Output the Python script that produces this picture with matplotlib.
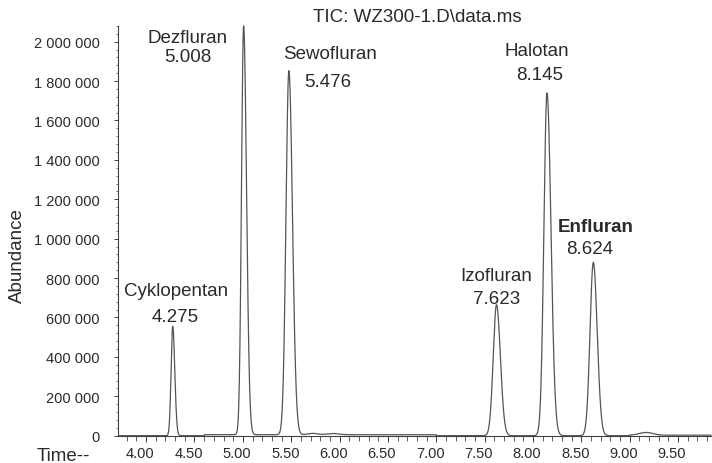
import numpy as np
import matplotlib
matplotlib.use("Agg")
import matplotlib.pyplot as plt
from matplotlib.ticker import MultipleLocator, FuncFormatter
from matplotlib.transforms import ScaledTranslation

plt.rcParams['font.family'] = ['Liberation Sans', 'DejaVu Sans']

# ---- data ----
peak_names = ["Cyklopentan", "Dezfluran", "Sewofluran", "Izofluran", "Halotan", "Enfluran"]
peak_rt = [4.275, 5.008, 5.476, 7.623, 8.145, 8.624]
peak_height = [555000, 2075000, 1848000, 665000, 1740000, 880000]
peak_sigma_left = [0.017, 0.022, 0.030, 0.034, 0.032, 0.034]
peak_sigma_right = [0.021, 0.030, 0.037, 0.040, 0.041, 0.040]

minor_rt = [5.72, 5.93, 9.17]
minor_height = [7000, 6000, 14000]
minor_sigma = [0.05, 0.06, 0.07]

baseline_start = [4.60, 9.00]
baseline_end = [7.00, 9.84]
baseline_level = [5000, 2500]

title = "TIC: WZ300-1.D\\data.ms"

# ---- build the trace ----
t = np.linspace(3.72, 9.84, 8000)
y = np.zeros_like(t)
for rt, h, sl, sr in zip(peak_rt, peak_height, peak_sigma_left, peak_sigma_right):
    s = np.where(t < rt, sl, sr)
    y += h * np.exp(-0.5 * ((t - rt) / s) ** 2)
for rt, h, s in zip(minor_rt, minor_height, minor_sigma):
    y += h * np.exp(-0.5 * ((t - rt) / s) ** 2)
for a, b, lv in zip(baseline_start, baseline_end, baseline_level):
    y += np.where((t >= a) & (t <= b), lv, 0)

fig = plt.figure(figsize=(7.12, 4.64), dpi=100)
ax = fig.add_axes([118 / 712, 27.3 / 464, (711.5 - 118) / 712, (436.7 - 26.7) / 464])

ax.plot(t, y, color="#555555", lw=0.9, clip_on=False)

ax.set_xlim(3.709, 9.846)
ax.set_ylim(0, 2.081e6)

for side in ("top", "right"):
    ax.spines[side].set_visible(False)
for side in ("left", "bottom"):
    ax.spines[side].set_color("#404040")
    ax.spines[side].set_linewidth(0.8)

ax.xaxis.set_major_locator(MultipleLocator(0.5))
ax.xaxis.set_minor_locator(MultipleLocator(0.1))
ax.yaxis.set_major_locator(MultipleLocator(200000))
ax.yaxis.set_minor_locator(MultipleLocator(40000))
ax.xaxis.set_major_formatter(FuncFormatter(lambda v, p: f"{v:.2f}"))
ax.yaxis.set_major_formatter(FuncFormatter(lambda v, p: f"{int(round(v)):,}".replace(",", " ")))

txt_color = "#2a2a2a"
ax.tick_params(axis="x", which="major", length=4, width=0.7, color="#404040",
               labelsize=10.5, pad=3.5, labelcolor=txt_color)
ax.tick_params(axis="x", which="minor", length=3.5, width=0.6, color="#404040")
ax.tick_params(axis="y", which="major", length=3, width=0.7, color="#404040",
               labelsize=10.5, pad=10, labelcolor=txt_color)
ax.tick_params(axis="y", which="minor", length=1.8, width=0.5, color="#404040")

offset = ScaledTranslation(-6 / 100, 0, fig.dpi_scale_trans)
for lab in ax.get_xticklabels():
    lab.set_transform(lab.get_transform() + offset)

# ---- annotations ----
def px2data(xp, yp):
    return 4 + (xp - 146.1) / 96.7, (436.7 - yp) / 197.0 * 1e6

label_pos = [(176, 292), (188, 39), (330, 55), (496, 277), (537, 52), (596, 228)]
rt_pos = [(175, 318), (188, 58), (328, 83), (496, 300), (540, 76), (590, 250)]
for i, (name, rt) in enumerate(zip(peak_names, peak_rt)):
    x1, y1 = px2data(*label_pos[i])
    x2, y2 = px2data(*rt_pos[i])
    weight = "bold" if name == "Enfluran" else "normal"
    ax.text(x1, y1, name, ha="center", va="center", fontsize=13.5,
            color=txt_color, fontweight=weight)
    ax.text(x2, y2, f"{rt:.3f}", ha="center", va="center", fontsize=13.5,
            color=txt_color)

fig.text(417 / 712, 1 - 18 / 464, title, ha="center", va="center",
         fontsize=13.5, color=txt_color)
fig.text(17 / 712, 1 - 256 / 464, "Abundance", rotation=90, ha="center",
         va="center", fontsize=13.5, color=txt_color)
fig.text(63 / 712, 1 - 457 / 464, "Time--", ha="center", va="center",
         fontsize=13.5, color=txt_color)

fig.savefig("out.png", dpi=100)
